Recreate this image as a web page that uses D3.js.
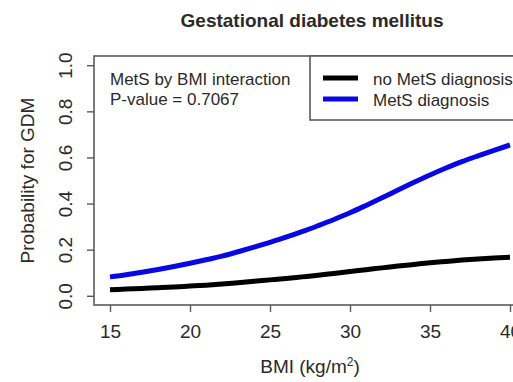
<!DOCTYPE html>
<html><head><meta charset="utf-8">
<script src="https://cdn.jsdelivr.net/npm/d3@7"></script>
<style>body{margin:0;background:#fff}svg{display:block}text{font-family:"Liberation Sans",Arial,sans-serif;fill:#2a2a2a}</style>
</head><body>
<script>
const bmi = [15,16,17,18,19,20,21,22,23,24,25,26,27,28,29,30,31,32,33,34,35,36,37,38,39,40];
const noMetS = [0.026,0.029,0.032,0.035,0.038,0.042,0.046,0.051,0.057,0.063,0.069,0.075,0.082,0.089,0.097,0.105,0.113,0.121,0.129,0.136,0.143,0.149,0.155,0.160,0.164,0.167];
const metS = [0.082,0.091,0.102,0.114,0.127,0.141,0.156,0.172,0.191,0.211,0.232,0.254,0.278,0.304,0.331,0.360,0.392,0.425,0.459,0.492,0.524,0.554,0.582,0.607,0.631,0.654];
const xTicks = [15,20,25,30,35,40];
const yTicks = [0,0.2,0.4,0.6,0.8,1.0];
const seriesNames = ["no MetS diagnosis","MetS diagnosis"];
const seriesColors = ["#000000","#0808e6"];
const titleText = "Gestational diabetes mellitus";
const noteLines = ["MetS by BMI interaction","P-value = 0.7067"];

const W=513,H=382;
const svg=d3.select("body").append("svg").attr("width",W).attr("height",H);
const x=d3.scaleLinear().domain([14,41]).range([94,526]);
const y=d3.scaleLinear().domain([-0.04,1.04]).range([305,56]);
const axisCol="#5a5a5a";

svg.append("rect").attr("x",x(14)).attr("y",y(1.04)).attr("width",x(41)-x(14)).attr("height",y(-0.04)-y(1.04))
  .attr("fill","none").attr("stroke",axisCol).attr("stroke-width",1.6);

const xa=svg.append("g").attr("transform",`translate(0,${y(-0.04)})`)
  .call(d3.axisBottom(x).tickValues(xTicks).tickSize(7).tickPadding(13).tickFormat(d3.format("d")));
xa.select(".domain").remove();
xa.selectAll("line").attr("stroke",axisCol).attr("stroke-width",1.4);
xa.selectAll("text").style("font-size","19px").attr("fill","#2a2a2a");

const ya=svg.append("g").attr("transform",`translate(${x(14)},0)`)
  .call(d3.axisLeft(y).tickValues(yTicks).tickSize(7).tickFormat(d3.format(".1f")));
ya.select(".domain").remove();
ya.selectAll("line").attr("stroke",axisCol).attr("stroke-width",1.4);
ya.selectAll("text").style("font-size","19px").attr("fill","#2a2a2a")
  .attr("x",0).attr("text-anchor","middle")
  .attr("transform","translate(-29,0) rotate(-90)").attr("y",0).attr("dy","0.35em");

const line=d3.line().x((d,i)=>x(bmi[i])).y(d=>y(d)).curve(d3.curveMonotoneX);
[noMetS,metS].forEach((s,k)=>{
  svg.append("path").datum(s).attr("d",line).attr("fill","none")
    .attr("stroke",seriesColors[k]).attr("stroke-width",5).attr("stroke-linecap","butt");
});

svg.append("text").attr("x",312).attr("y",27).attr("text-anchor","middle")
  .style("font-size","19px").style("font-weight","bold").text(titleText);
svg.append("text").attr("x",310).attr("y",373).attr("text-anchor","middle").style("font-size","19px")
  .html('BMI (kg/m<tspan dy="-7" style="font-size:12px">2</tspan><tspan dy="7">)</tspan>');
svg.append("text").attr("transform",`translate(34,${(y(1.04)+y(-0.04))/2}) rotate(-90)`)
  .attr("text-anchor","middle").style("font-size","19px").text("Probability for GDM");

noteLines.forEach((t,i)=>{
  svg.append("text").attr("x",110).attr("y",85+i*20).style("font-size","17px").text(t);
});
svg.append("rect").attr("x",310).attr("y",y(1.04)).attr("width",260).attr("height",120-y(1.04))
  .attr("fill","#fff").attr("stroke",axisCol).attr("stroke-width",1.6);
seriesNames.forEach((t,i)=>{
  const yy=78+i*21;
  svg.append("line").attr("x1",323).attr("x2",358).attr("y1",yy).attr("y2",yy)
    .attr("stroke",seriesColors[i]).attr("stroke-width",5);
  svg.append("text").attr("x",373).attr("y",yy+7).style("font-size","17px").text(t);
});
</script>
</body></html>
